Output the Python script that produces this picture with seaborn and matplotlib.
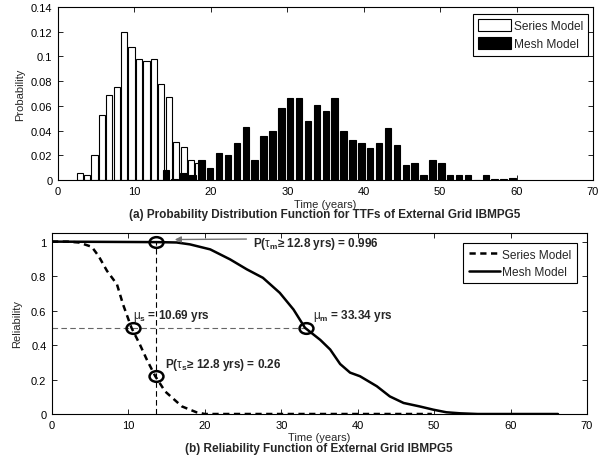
import matplotlib
matplotlib.use("Agg")
import matplotlib.pyplot as plt
import numpy as np
import pandas as pd
import seaborn as sns
from matplotlib.lines import Line2D
from matplotlib.patches import Patch
from matplotlib.path import Path
from matplotlib.transforms import Affine2D

# (a) histogram: bin centres (years) and probabilities
series_t = [2.83, 3.80, 4.77, 5.75, 6.72, 7.69, 8.66, 9.63, 10.61, 11.58,
            12.55, 13.52, 14.49, 15.47, 16.44, 17.41, 18.38]
series_p = [0.006, 0.004, 0.020, 0.053, 0.069, 0.075, 0.120, 0.108, 0.098, 0.096,
            0.098, 0.078, 0.067, 0.031, 0.027, 0.016, 0.014]
series_half = 0.486

mesh_t = [14.10, 15.26, 16.43, 17.59, 18.75, 19.92, 21.08, 22.24, 23.40, 24.57,
          25.73, 26.89, 28.06, 29.22, 30.38, 31.55, 32.71, 33.87, 35.03, 36.20,
          37.36, 38.52, 39.69, 40.85, 42.01, 43.18, 44.34, 45.50, 46.66, 47.83,
          48.99, 50.15, 51.32, 52.48, 53.64, 54.81, 55.97, 57.13, 58.29, 59.46]
mesh_p = [0.0078, 0.001, 0.006, 0.004, 0.016, 0.010, 0.022, 0.020, 0.030, 0.043,
          0.016, 0.036, 0.040, 0.058, 0.066, 0.066, 0.048, 0.061, 0.056, 0.066,
          0.040, 0.032, 0.030, 0.026, 0.030, 0.042, 0.028, 0.012, 0.014, 0.004,
          0.016, 0.014, 0.004, 0.004, 0.004, 0.0, 0.004, 0.001, 0.001, 0.0015]
mesh_half = 0.582

hist_yticks = [0, 0.02, 0.04, 0.06, 0.08, 0.1, 0.12, 0.14]
hist_ylabels = ["0", "0.02", "0.04", "0.06", "0.08", "0.1", "0.12", "0.14"]

# (b) reliability curves
series_rt = [0, 2, 3.5, 5.2, 6.1, 7.2, 8.5, 9.3, 10.4, 11.5, 12.4, 13.5, 14.8,
             17.0, 18.9, 20, 30, 40, 49.7]
series_r = [1, 1, 0.995, 0.97, 0.916, 0.83, 0.752, 0.635, 0.5, 0.403, 0.316,
            0.22, 0.131, 0.044, 0.01, 0, 0, 0, 0]
mesh_rt = [0, 14, 16.3, 18.05, 20.7, 23.3, 25.5, 27.6, 29.8, 31.6, 33.1, 35.1,
           36.4, 37.7, 39.0, 40.3, 42.5, 44.2, 46.0, 48.1, 49.9, 51.6, 53.4,
           55.7, 60, 66.2]
mesh_r = [1, 0.997, 0.995, 0.984, 0.955, 0.897, 0.839, 0.79, 0.703, 0.606, 0.5,
          0.43, 0.374, 0.29, 0.24, 0.219, 0.161, 0.102, 0.064, 0.044, 0.025,
          0.01, 0.004, 0, 0, 0]

# highlighted points: mu_s, P(series), P(mesh), mu_m
mark_t = [10.55, 13.6, 13.6, 33.2]
mark_r = [0.5, 0.22, 1.0, 0.5]
cut_t = 13.6

rel_yticks = [0, 0.2, 0.4, 0.6, 0.8, 1]
rel_ylabels = ["0", "0.2", "0.4", "0.6", "0.8", "1"]
xticks = [0, 10, 20, 30, 40, 50, 60, 70]

sns.set_style("ticks")
plt.rcParams.update({
    "font.family": ["Liberation Sans", "DejaVu Sans"],
    "font.size": 8,
    "xtick.direction": "in", "ytick.direction": "in",
    "xtick.top": True, "ytick.right": True,
    "xtick.major.size": 3.5, "ytick.major.size": 3.5,
    "xtick.major.width": 0.6, "ytick.major.width": 0.6,
    "xtick.major.pad": 4, "ytick.major.pad": 4,
    "axes.linewidth": 0.8, "axes.edgecolor": "black",
    "xtick.color": "black", "ytick.color": "black",
    "xtick.labelsize": 8, "ytick.labelsize": 8,
    "mathtext.fontset": "custom",
    "mathtext.it": "Liberation Sans",
    "mathtext.rm": "Liberation Sans:bold",
    "mathtext.bf": "Liberation Sans:bold",
})

fig = plt.figure(figsize=(6.08, 4.64), dpi=100)
ax1 = fig.add_axes([58 / 608, 1 - 181 / 464, 535 / 608, 173 / 464])
ax2 = fig.add_axes([52 / 608, 1 - 415 / 464, 535 / 608, 181 / 464])

# ---- (a) histogram ----
series_df = pd.DataFrame({"t": series_t, "p": series_p})
mesh_df = pd.DataFrame({"t": mesh_t, "p": mesh_p})
series_edges = list(np.append(series_df["t"].to_numpy() - series_half, series_t[-1] + series_half))
mesh_edges = list(np.append(mesh_df["t"].to_numpy() - mesh_half, mesh_t[-1] + mesh_half))
sns.histplot(data=series_df, x="t", weights="p", bins=series_edges, shrink=0.84,
             color="white", edgecolor="black", linewidth=0.8, alpha=1, ax=ax1)
sns.histplot(data=mesh_df, x="t", weights="p", bins=mesh_edges, shrink=0.72,
             color="black", edgecolor="black", linewidth=0.8, alpha=1, ax=ax1)
ax1.set_xlim(0, 70)
ax1.set_ylim(0, 0.14)
ax1.set_xticks(xticks)
ax1.set_yticks(hist_yticks)
ax1.set_yticklabels(hist_ylabels)
ax1.set_xlabel("Time (years)", fontsize=8)
ax1.set_ylabel("Probability", fontsize=8)
ax1.xaxis.set_label_coords(0.5, -0.11)
ax1.yaxis.set_label_coords(-0.062, 0.5)
ax1.legend(handles=[Patch(facecolor="white", edgecolor="black", lw=0.8, label="Series Model"),
                    Patch(facecolor="black", edgecolor="black", lw=0.8, label="Mesh Model")],
           loc="upper right", bbox_to_anchor=(0.991, 0.96), borderaxespad=0,
           fancybox=False, framealpha=1, edgecolor="black", fontsize=8.6,
           handlelength=2.7, handleheight=1.1, handletextpad=0.25,
           borderpad=0.45, labelspacing=0.45)
ax1.get_legend().get_frame().set_linewidth(0.8)
fig.text(325 / 608, 1 - 215 / 464,
         "(a) Probability Distribution Function for TTFs of External Grid IBMPG5",
         ha="center", va="center", fontsize=8.5, fontweight="bold")

# ---- (b) reliability ----
ax2.hlines(0.5, 0, mark_t[3], colors="0.4", lw=0.8, linestyles=(0, (5, 3)))
ax2.vlines(cut_t, 0, 1.0, colors="black", lw=0.8, linestyles=(0, (5, 3)))
sns.lineplot(x=series_rt, y=series_r, ax=ax2, color="black", lw=1.8, estimator=None)
ax2.lines[-1].set_dashes([2.5, 1.8])
sns.lineplot(x=mesh_rt, y=mesh_r, ax=ax2, color="black", lw=1.8, estimator=None)
ellipse = Path.unit_circle().transformed(Affine2D().scale(1.3, 1.0))
ax2.plot(mark_t, mark_r, ls="none", marker=ellipse, ms=10, mew=1.8,
         mfc="none", mec="black")

ax2.annotate("", xy=(15.7, 1.012), xytext=(25.8, 1.015),
             arrowprops=dict(arrowstyle="-|>", color="0.45", lw=1, mutation_scale=9))
ax2.text(26.3, 0.99, r"P($\tau_\mathrm{m}$≥ 12.8 yrs) = 0.996",
         fontsize=8.5, fontweight="bold", va="center")
ax2.text(10.6, 0.575, r"$\mu_\mathrm{s}$ = 10.69 yrs",
         fontsize=8.5, fontweight="bold", va="center")
ax2.text(14.8, 0.29, r"P($\tau_\mathrm{s}$≥ 12.8 yrs) = 0.26",
         fontsize=8.5, fontweight="bold", va="center")
ax2.text(34.2, 0.575, r"$\mu_\mathrm{m}$ = 33.34 yrs",
         fontsize=8.5, fontweight="bold", va="center")

ax2.set_xlim(0, 70)
ax2.set_ylim(0, 1.05)
ax2.set_xticks(xticks)
ax2.set_yticks(rel_yticks)
ax2.set_yticklabels(rel_ylabels)
ax2.set_xlabel("Time (years)", fontsize=8)
ax2.set_ylabel("Reliability", fontsize=8)
ax2.xaxis.set_label_coords(0.5, -0.1)
ax2.yaxis.set_label_coords(-0.056, 0.5)
ax2.legend(handles=[Line2D([], [], color="black", lw=1.8, dashes=[2.5, 1.8], label="Series Model"),
                    Line2D([], [], color="black", lw=1.8, label="Mesh Model")],
           loc="upper right", bbox_to_anchor=(0.981, 0.944), borderaxespad=0,
           fancybox=False, framealpha=1, edgecolor="black", fontsize=8.6,
           handlelength=2.6, borderpad=0.45, labelspacing=0.45, handletextpad=0.2)
ax2.get_legend().get_frame().set_linewidth(0.8)
fig.text(319 / 608, 1 - 449 / 464,
         "(b) Reliability Function of External Grid IBMPG5",
         ha="center", va="center", fontsize=8.5, fontweight="bold")

fig.savefig("out.png", dpi=100)
